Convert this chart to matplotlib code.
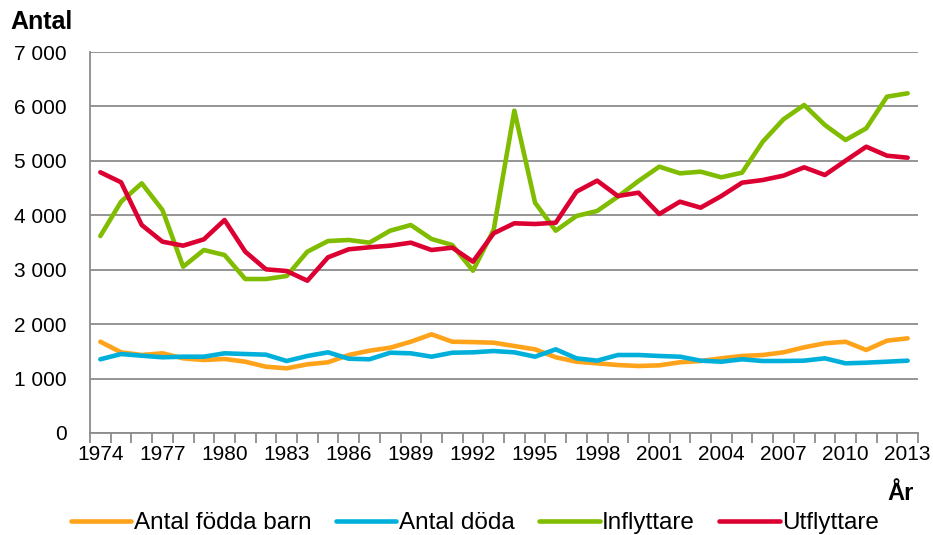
import numpy as np
import matplotlib.pyplot as plt
from matplotlib.ticker import FuncFormatter

plt.rcParams['font.family'] = ['Liberation Sans', 'DejaVu Sans']

# data
years = list(range(1974, 2014))

fodda = [1677, 1482, 1433, 1464, 1372, 1341, 1360, 1310, 1218, 1188,
         1262, 1299, 1433, 1512, 1567, 1677, 1813, 1677, 1670, 1659,
         1598, 1537, 1391, 1310, 1280, 1249, 1231, 1243, 1299, 1323,
         1372, 1415, 1433, 1482, 1574, 1648, 1677, 1525, 1696, 1739]

doda = [1354, 1451, 1420, 1391, 1402, 1402, 1464, 1451, 1439, 1323,
        1415, 1482, 1365, 1354, 1475, 1464, 1402, 1475, 1482, 1506,
        1482, 1402, 1537, 1372, 1329, 1433, 1433, 1415, 1402, 1329,
        1310, 1354, 1323, 1323, 1329, 1372, 1280, 1292, 1310, 1329]

inflyttare = [3619, 4250, 4587, 4097, 3055, 3362, 3270, 2829, 2829, 2884,
              3331, 3527, 3546, 3497, 3717, 3821, 3564, 3454, 2982, 3730,
              5922, 4231, 3717, 3987, 4079, 4342, 4630, 4893, 4771, 4801,
              4698, 4783, 5352, 5763, 6026, 5659, 5383, 5598, 6179, 6241]

utflyttare = [4790, 4606, 3821, 3515, 3442, 3558, 3913, 3331, 3007, 2976,
              2798, 3228, 3375, 3412, 3442, 3497, 3362, 3405, 3148, 3669,
              3853, 3840, 3864, 4434, 4636, 4354, 4415, 4023, 4250, 4140,
              4354, 4599, 4648, 4728, 4881, 4740, 5003, 5260, 5095, 5058]

series = ['Antal födda barn', 'Antal döda', 'Inflyttare', 'Utflyttare']
colors = ['#FFA31A', '#00B0DA', '#80BC00', '#DC0032']

W, H = 933, 535
fig = plt.figure(figsize=(W / 100, H / 100), dpi=100)
ax = fig.add_axes([90 / W, 1 - 433 / H, (918 - 90) / W, (433 - 52) / H])

x = np.arange(len(years))
for vals, name, c in zip([fodda, doda, inflyttare, utflyttare], series, colors):
    ax.plot(x, vals, color=c, lw=3.3, label=name, solid_capstyle='round',
            solid_joinstyle='round', zorder=3)

ax.set_xlim(-0.5, len(years) - 0.5)
ax.set_ylim(0, 7000)
ax.set_yticks(range(0, 7001, 1000))
ax.yaxis.set_major_formatter(FuncFormatter(lambda v, p: f'{int(v):,}'.replace(',', ' ')))
ax.grid(axis='y', color='#8C8C8C', lw=1.3, zorder=0)

# category axis: labels every third year, tick marks between categories
ax.set_xticks(x[::3])
ax.set_xticklabels([str(y) for y in years[::3]])
ax.set_xticks(np.arange(-0.5, len(years), 1), minor=True)
ax.tick_params(axis='x', which='major', length=0, labelsize=15, pad=9)
ax.tick_params(axis='x', which='minor', length=7, color='#8C8C8C', width=1.3)
ax.tick_params(axis='y', length=0, labelsize=15, pad=17)

for s in ['top', 'right']:
    ax.spines[s].set_visible(False)
for s in ['left', 'bottom']:
    ax.spines[s].set_color('#8C8C8C')
    ax.spines[s].set_linewidth(1.3)

fig.text(10 / W, 1 - 22 / H, 'Antal', fontsize=18, fontweight='bold', va='center', ha='left')
fig.text(914 / W, 1 - 493 / H, 'År', fontsize=17, fontweight='bold', va='center', ha='right')

fig.legend(loc='center', bbox_to_anchor=(475 / W, 1 - 523 / H), ncol=4, frameon=False,
           fontsize=17.5, handlelength=2.5, handletextpad=0.1, columnspacing=1.0,
           borderpad=0, borderaxespad=0)

fig.savefig('out.png', dpi=100)
